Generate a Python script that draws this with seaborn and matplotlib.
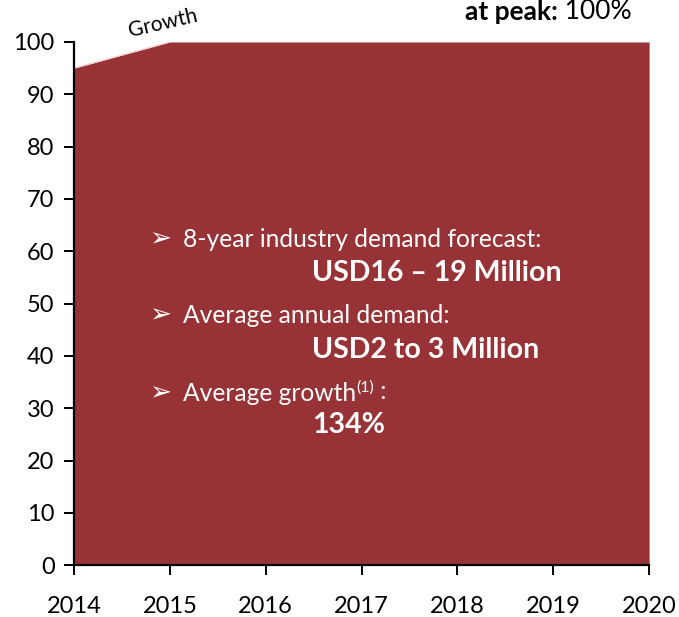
import pandas as pd
import matplotlib
matplotlib.use("Agg")
import matplotlib.pyplot as plt
import seaborn as sns

# data
years = [2014, 2015, 2016, 2017, 2018, 2019, 2020]
demand = [95, 100, 100, 100, 100, 100, 100]
y_ticks = [0, 10, 20, 30, 40, 50, 60, 70, 80, 90, 100]

AREA = "#973236"
FONT = ["Lato", "DejaVu Sans"]

sns.set_theme(style="white")
plt.rcParams["font.family"] = FONT

df = pd.DataFrame({"year": years, "demand": demand})

fig = plt.figure(figsize=(6.79, 6.17), dpi=100)
ax = fig.add_axes([0.109, 0.084, 0.847, 0.848])

ax.fill_between(df["year"], 0, df["demand"], color=AREA, linewidth=0)
# thin light edge on the growth segment
sns.lineplot(data=df.iloc[:2], x="year", y="demand", ax=ax,
             color="#f3d3d3", linewidth=1.0)

ax.set_xlim(2014, 2020)
ax.set_ylim(0, 100)
ax.set_xticks(years)
ax.set_yticks(y_ticks)
ax.set_xlabel("")
ax.set_ylabel("")

for side in ["top", "right"]:
    ax.spines[side].set_visible(False)
for side in ["left", "bottom"]:
    ax.spines[side].set_color("black")
    ax.spines[side].set_linewidth(1.6)
    ax.spines[side].set_zorder(5)

ax.tick_params(axis="x", direction="out", length=7, width=1.4, color="black",
               pad=15, labelsize=17, labelcolor="black", bottom=True)
ax.tick_params(axis="y", direction="out", length=7, width=1.4, color="black",
               pad=7, labelsize=17, labelcolor="black", left=True)
ax.grid(False)

# "Growth" label along the rising segment
ax.text(2014.93, 103.6, "Growth", fontsize=15, rotation=13, ha="center",
        va="center", color="black", clip_on=False)

# header at the top right (partly cut off in the original)
t1 = fig.text(0.685, 0.981, "at peak:", fontsize=19, fontweight="bold",
              ha="left", va="center", color="black")
ax.annotate(" 100%", xy=(1, 0.5), xycoords=t1, va="center", ha="left",
            fontsize=19, color="black", annotation_clip=False)

# bullet text block inside the area
def bullet(y, text):
    ax.text(2014.78, y, "\u27a2", fontsize=19, color="white", va="center",
            ha="left", family=["DejaVu Sans"])
    return ax.text(2015.14, y, text, fontsize=17.7, color="white", va="center",
                   ha="left")

bullet(62.3, "8-year industry demand forecast:")
ax.text(2016.48, 55.9, "USD16 \u2013 19 Million", fontsize=20.5, fontweight="bold",
        color="white", va="center", ha="left")
bullet(47.8, "Average annual demand:")
ax.text(2016.48, 41.2, "USD2 to 3 Million", fontsize=20.5, fontweight="bold",
        color="white", va="center", ha="left")
g = bullet(32.8, "Average growth")
sup = ax.annotate("(1)", xy=(1, 0.75), xycoords=g, fontsize=11.5, color="white",
                  va="center", ha="left")
ax.annotate(" :", xy=(1, 0.25), xycoords=sup, fontsize=17.7, color="white",
            va="center", ha="left")
ax.text(2016.48, 26.8, "134%", fontsize=20.5, fontweight="bold",
        color="white", va="center", ha="left")

fig.savefig("out.png", dpi=100)
